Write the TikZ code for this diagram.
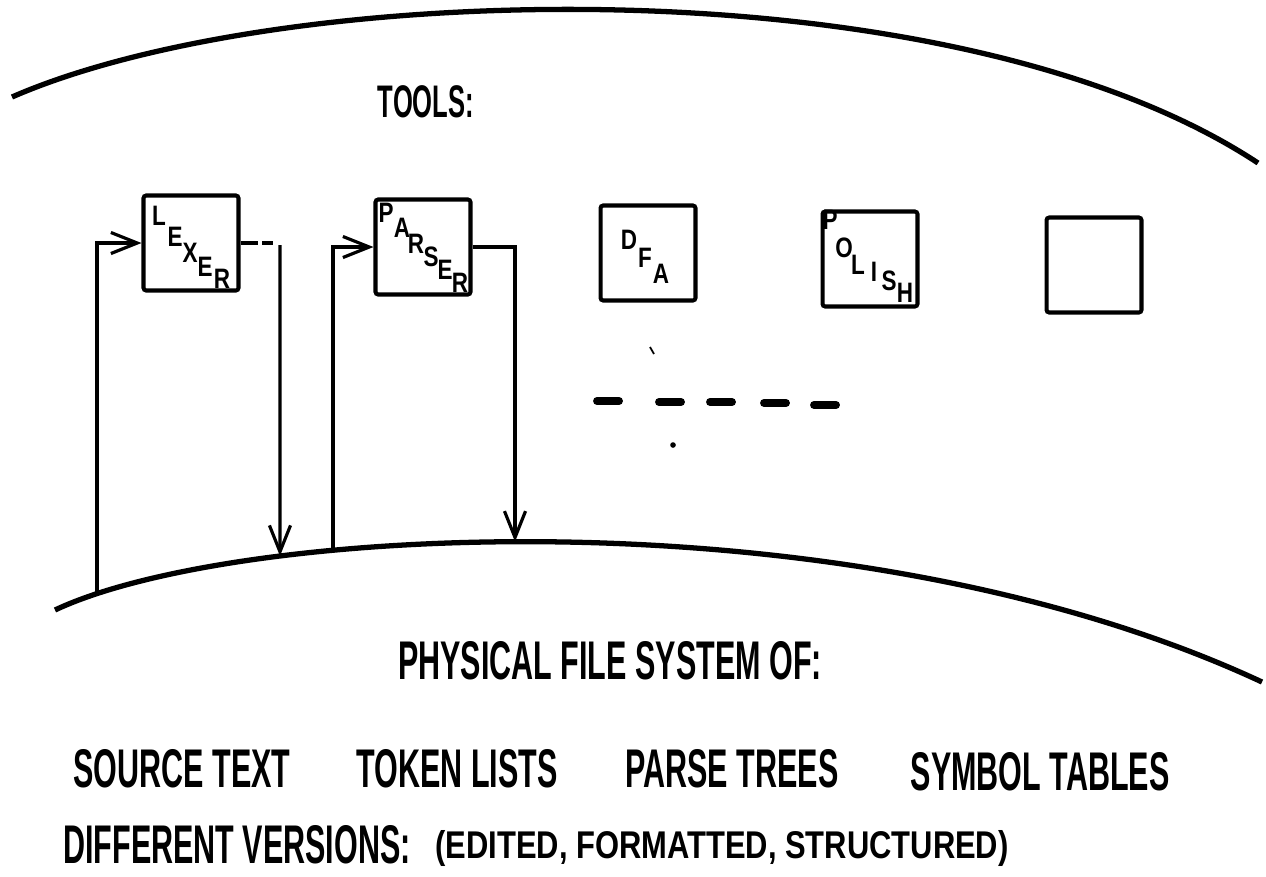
\documentclass[tikz,border=0pt]{standalone}
\usepackage{fontspec}
\usetikzlibrary{arrows.meta,intersections}
\newfontfamily\tallfont{Liberation Sans}[FakeStretch=0.56]
\newfontfamily\widefont{Liberation Sans}[FakeStretch=0.8]
\tikzstyle{tool}=[draw, line width=2.3pt, minimum width=1.9cm, minimum height=1.9cm, rounded corners=1.5pt]
\tikzstyle{letter}=[inner sep=0pt, font=\widefont\bfseries\fontsize{16}{16}\selectfont]
\tikzstyle{words}=[inner sep=0pt, font=\tallfont\bfseries\fontsize{31}{31}\selectfont]
\tikzstyle{flow}=[line width=1.8pt]
\tikzset{>={Straight Barb[length=15pt,width=12pt,line width=1.8pt]}}

\begin{document}
\begin{tikzpicture}[x=0.02cm, y=-0.02cm]
      \useasboundingbox (0,0) rectangle (1266,876);
      % the two disc edges
      \draw[line width=3pt] (12,97) .. controls (280,-20) and (950,-40) .. (1258,163);
      \draw[line width=3pt, name path=floor] (55,610) .. controls (235,525) and (850,490) .. (1262,682);
      \node[words, font=\tallfont\bfseries\fontsize{26}{26}\selectfont] (tools) at (426,102) {TOOLS:};

      % tool boxes
      \node[tool] (lexer) at (191,243) {};
      \node[tool] (parser) at (423,247) {};
      \node[tool] (dfa) at (648,253) {};
      \node[tool] (polish) at (870,259) {};
      \node[tool] (blank) at (1094,265) {};
      \foreach \ch/\x/\y [count=\i] in {L/159/216,E/175/237,X/190/253,E/205/267,R/222/279}
        \node[letter] (lex\i) at (\x,\y) {\ch};
      \foreach \ch/\x/\y [count=\i] in {P/386/213,A/402/228,R/416/244,S/431/257,E/445/270,R/460/283}
        \node[letter] (par\i) at (\x,\y) {\ch};
      \foreach \ch/\x/\y [count=\i] in {D/629/240,F/645/258,A/661/274}
        \node[letter] (dfa\i) at (\x,\y) {\ch};
      \foreach \ch/\x/\y [count=\i] in {P/830/220,O/844/248,L/858/265,I/874/272,S/889/281,H/905/293}
        \node[letter] (pol\i) at (\x,\y) {\ch};

      % where the lines meet the file system
      \foreach \n/\x in {lexa/97,lexb/280,para/333,parb/515} {
        \path[name path=v\n] (\x,200) -- (\x,800);
        \path[name intersections={of=floor and v\n, by=\n}];
      }
      \coordinate (lexc) at (280,245);
      \coordinate (lexd) at (273,243);
      \draw[flow, ->] (lexa) |- (lexer.west);
      \draw[flow, dash pattern=on 10pt off 2.5pt on 6pt off 50pt] (lexer.east) -- (lexd);
      \draw[flow, ->] (lexc) -- (lexb);
      \draw[flow, ->] (para) |- (parser.west);
      \draw[flow, ->] (parser.east) -| (parb);

      % more tools
      \foreach \x/\y in {608/401,670/402,721/402,775/403,825/405}
        \draw[line width=4.5pt, line cap=round] (\x-11,\y) -- (\x+11,\y);
      \fill (673,445) circle (1.6pt);
      \draw[line width=1pt] (650,347) -- (654,354);

      % stored objects
      \node[words] (physical) at (610,661) {PHYSICAL FILE SYSTEM OF:};
      \node[words] (source) at (182,769) {SOURCE TEXT};
      \node[words] (tokens) at (457,769) {TOKEN LISTS};
      \node[words] (trees) at (732,769) {PARSE TREES};
      \node[words] (symbols) at (1040,772) {SYMBOL TABLES};
      \node[words] (versions) at (237,845) {DIFFERENT VERSIONS:};
      \node[words, font=\widefont\bfseries\fontsize{22}{22}\selectfont] (kinds) at (722,848) {(EDITED, FORMATTED, STRUCTURED)};
    \end{tikzpicture}
\end{document}
